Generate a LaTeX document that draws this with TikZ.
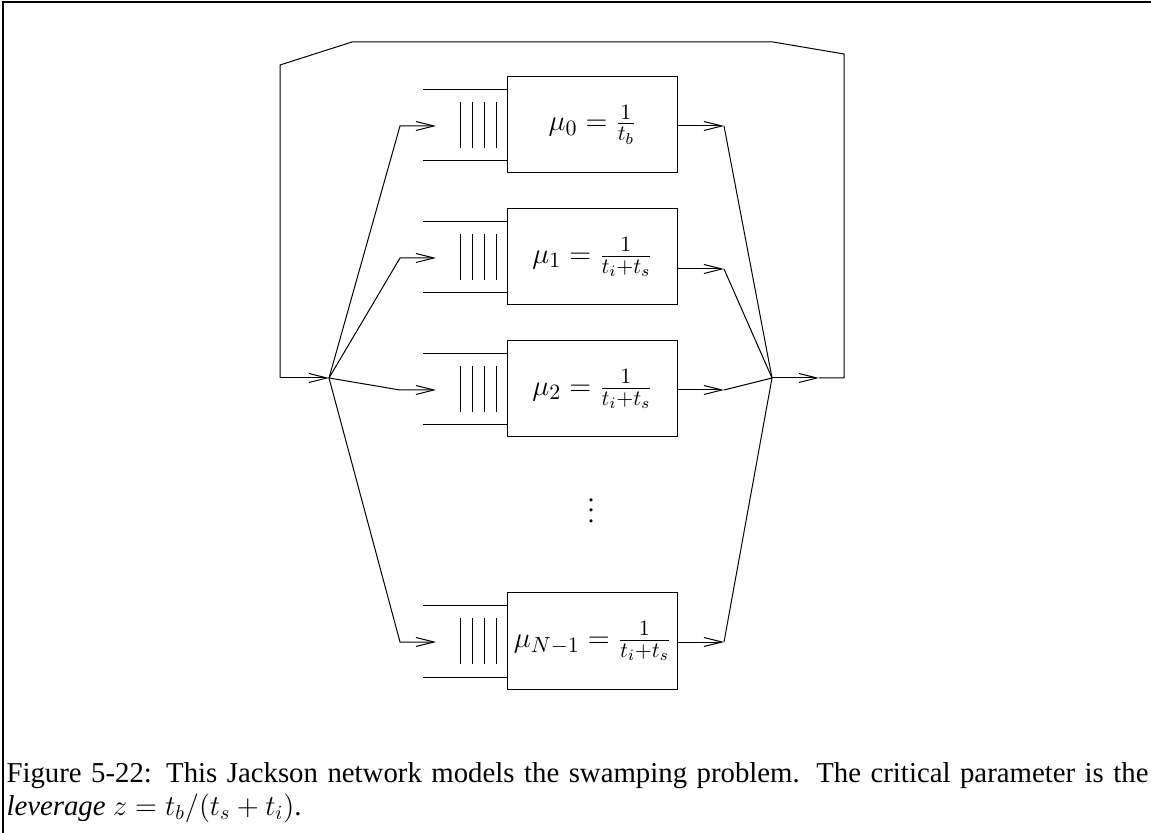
\documentclass[tikz,border=0pt]{standalone}
\usepackage[no-math]{fontspec}
\setmainfont{Liberation Serif}
\usetikzlibrary{positioning, arrows.meta}

\begin{document}
\begin{tikzpicture}[x=0.5pt, y=-0.5pt, line width=0.5pt,
        >={Straight Barb[length=9pt, width=4.5pt]},
        server/.style={draw, minimum width=85pt, minimum height=48pt,
            inner sep=0pt, font=\fontsize{15.8}{18}\selectfont}]

    % Page frame
    \useasboundingbox (0,0) rectangle (1151,833);
    \draw[line width=1pt] (3,833) -- (3,2) -- (1151,2);

    % Junction and feedback coordinates
    \coordinate (src) at (329,378);
    \coordinate (snk) at (772,378);
    \coordinate (mid) at (819,378);
    \coordinate (fbA) at (844,378);
    \coordinate (fbB) at (844,54);
    \coordinate (fbC) at (773,42);
    \coordinate (fbD) at (352,42);
    \coordinate (fbE) at (280,65);
    \coordinate (fbF) at (280,378);

    % Servers
    \node[server] (s0) at (592.5,125) {$\mu_0=\frac{1}{t_b}$};
    \node[server] (s1) at (592.5,257) {$\mu_1=\frac{1}{t_i+t_s}$};
    \node[server] (s2) at (592.5,389) {$\mu_2=\frac{1}{t_i+t_s}$};
    \node[server] (s3) at (592.5,641) {$\mu_{N-1}=\frac{1}{t_i+t_s}$};

    % Queues, inputs and outputs
    \foreach \n/\c/\yo in {0/125/126, 1/257/269, 2/389/390, 3/641/642} {
        \draw ([yshift=17.5pt]s\n.west) -- ++(-84,0);
        \draw ([yshift=-18pt]s\n.west) -- ++(-84,0);
        \foreach \bx in {460,472,484,496}
            \draw (\bx,\c-23) -- (\bx,\c+23);
        \coordinate (in\n) at (400,\c+1);
        \coordinate (inT\n) at (436,\c+1);
        \draw[->] (src) -- (in\n) -- (inT\n);
        \coordinate (out\n) at (724,\yo);
        \draw[->] (s\n.east |- out\n) -- (out\n);
        \draw (out\n) -- (snk);
    }

    % Feedback loop
    \draw[->] (snk) -- (mid);
    \draw (mid) -- (fbA) -- (fbB) -- (fbC) -- (fbD) -- (fbE) -- (fbF);
    \draw[->] (fbF) -- (src);

    \node (dots) at (591,503) {\scalebox{1.3}{$\vdots$}};

    % Caption
    \node[anchor=north west, inner sep=0pt, text width=571pt, align=justify,
        font=\fontsize{14.4}{16.5}\selectfont] (cap) at (6,762)
        {Figure 5-22:  This Jackson network models the swamping problem.  The critical parameter is the\linebreak \emph{leverage} $z=t_b/(t_s+t_i)$.};
\end{tikzpicture}
\end{document}
